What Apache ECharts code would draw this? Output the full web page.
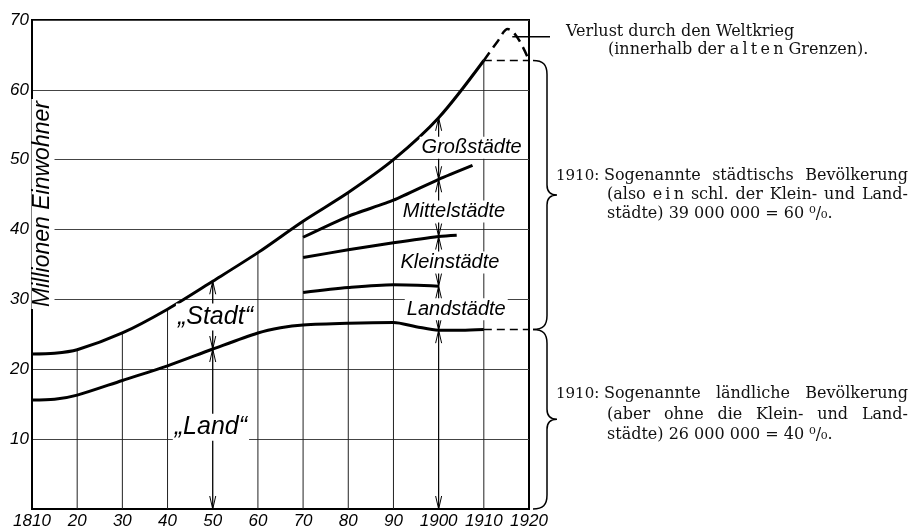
<!DOCTYPE html>
<html><head><meta charset="utf-8">
<script src="https://cdn.jsdelivr.net/npm/echarts@6/dist/echarts.min.js"></script>
<style>html,body{margin:0;padding:0;background:#fff}#c{width:914px;height:530px}</style>
</head><body><div id="c"></div>
<script>
// ---- data (Millionen Einwohner) ----
const totalYears  = [1810,1815,1820,1830,1840,1850,1860,1870,1880,1890,1900,1910];
const totalValues = [22.2,22.3,22.8,25.2,28.6,32.6,36.7,41.2,45.3,50.0,56.0,64.2];
const landYears   = [1810,1815,1820,1830,1840,1850,1860,1865,1870,1880,1890,1895,1900,1905,1910];
const landValues  = [15.6,15.7,16.3,18.4,20.5,22.9,25.2,25.95,26.35,26.6,26.7,26.1,25.6,25.6,25.7];
const kleinYears  = [1870,1880,1890,1900];
const kleinValues = [31.0,31.7,32.1,31.9];
const mittelYears = [1870,1880,1890,1900,1904];
const mittelValues= [36.0,37.1,38.1,39.0,39.2];
const grossYears  = [1870,1880,1890,1900,1907.5];
const grossValues = [38.9,41.9,44.2,47.2,49.2];
const warYears    = [1910,1913,1915.3,1920];
const warValues   = [64.2,66.9,68.7,64.2];
const tailYears   = [1910,1920];
const totalTail   = [64.2,64.2];
const landTail    = [25.7,25.7];
const gridYears   = [1820,1830,1840,1850,1860,1870,1880,1890,1900,1910];
const arrows      = [[1850,0,22.9],[1850,22.9,32.6],[1900,0,25.6],[1900,25.6,31.9],[1900,31.9,39.0],[1900,39.0,47.2],[1900,47.2,56.0]];
const braces      = [[1920,64.2,25.7],[1920,25.7,0]];
const xTickLabels = {1810:'1810',1900:'1900',1910:'1910',1920:'1920'};

const chart = echarts.init(document.getElementById('c'));
const pairs = (xs, ys) => xs.map((x,i)=>[x, ys[i]]);
const line = (xs, ys, width, type, smooth) => ({
  type:'line', data: pairs(xs, ys), symbol:'none', showSymbol:false, smooth: smooth,
  lineStyle:{color:'#000', width: width, type: type}, z:3, silent:true
});

const option = {
  animation:false,
  backgroundColor:'#fff',
  grid:{left:32, right:385, top:20, bottom:19, show:true, borderColor:'#000', borderWidth:2, containLabel:false},
  xAxis:{type:'value', min:1810, max:1920, interval:10,
    axisLine:{show:true, lineStyle:{color:'#000', width:2}}, axisTick:{show:false}, splitLine:{show:false},
    axisLabel:{margin:4, color:'#000', fontStyle:'italic', fontSize:17, fontFamily:'"Liberation Sans", Arial, sans-serif',
      formatter: v => xTickLabels[v] || String(v % 100)}},
  yAxis:{type:'value', min:0, max:70, interval:10,
    axisLine:{show:true, lineStyle:{color:'#000', width:2}}, axisTick:{show:false},
    splitLine:{show:true, lineStyle:{color:'#444', width:1}},
    axisLabel:{margin:3, color:'#000', fontStyle:'italic', fontSize:17, fontFamily:'"Liberation Sans", Arial, sans-serif',
      formatter: v => v === 0 ? '' : String(v)}},
  series:[
    {type:'custom', data: gridYears.map(y => [y, totalValues[totalYears.indexOf(y)]]), z:1, silent:true,
      encode:{x:0, y:1},
      renderItem:(p, api) => {
        const a = api.coord([api.value(0), 0]), b = api.coord([api.value(0), api.value(1)]);
        return {type:'line', shape:{x1:a[0], y1:a[1], x2:b[0], y2:b[1]}, style:{stroke:'#222', lineWidth:1}};
      }},
    line(totalYears, totalValues, 3, 'solid', 0.3),
    line(landYears, landValues, 3, 'solid', 0.3),
    line(kleinYears, kleinValues, 3, 'solid', 0.3),
    line(mittelYears, mittelValues, 3, 'solid', 0.3),
    line(grossYears, grossValues, 3, 'solid', 0.2),
    line(warYears, warValues, 2.5, [10,6], 0.4),
    line(tailYears, totalTail, 1.5, [8,5], false),
    line(tailYears, landTail, 1.5, [8,5], false),
    {type:'custom', data: arrows, z:2, silent:true, encode:{x:0, y:[1,2]},
      renderItem:(p, api) => {
        const x = api.value(0);
        const lo = api.coord([x, api.value(1)]), hi = api.coord([x, api.value(2)]);
        const hw = 3, hl = 13, st = {stroke:'#000', fill:null, lineWidth:1};
        return {type:'group', children:[
          {type:'line', shape:{x1:lo[0], y1:lo[1], x2:hi[0], y2:hi[1]}, style:st},
          {type:'polyline', shape:{points:[[hi[0]-hw, hi[1]+hl],[hi[0], hi[1]],[hi[0]+hw, hi[1]+hl]]}, style:st},
          {type:'polyline', shape:{points:[[lo[0]-hw, lo[1]-hl],[lo[0], lo[1]],[lo[0]+hw, lo[1]-hl]]}, style:st}
        ]};
      }},
    {type:'custom', data: braces, z:2, silent:true, clip:false, encode:{x:0, y:[1,2]},
      renderItem:(p, api) => {
        const x = api.value(0);
        const t = api.coord([x, api.value(1)]), b = api.coord([x, api.value(2)]);
        const x0 = t[0] + 4, yT = t[1], yB = b[1], ym = (yT + yB) / 2, xv = x0 + 14, xt = x0 + 24;
        const d = `M${x0},${yT} C${x0+10},${yT} ${xv},${yT+4} ${xv},${yT+14} L${xv},${ym-10} C${xv},${ym-3} ${xv+4},${ym} ${xt},${ym} ` +
                  `M${xt},${ym} C${xv+4},${ym} ${xv},${ym+3} ${xv},${ym+10} L${xv},${yB-14} C${xv},${yB-4} ${x0+10},${yB} ${x0},${yB}`;
        return {type:'path', shape:{pathData:d}, style:{stroke:'#000', fill:null, lineWidth:1.5}};
      }}
  ]
};
chart.setOption(option);

// ---- annotations ----
const px = v => chart.convertToPixel({gridIndex:0}, v);
const plotLabels = [
  ['„Stadt“', [1850.6, 27.5], 25],
  ['„Land“', [1849.6, 11.7], 25],
  ['Großstädte', [1907.3, 51.7], 20],
  ['Mittelstädte', [1903.4, 42.6], 20],
  ['Kleinstädte', [1902.5, 35.3], 20],
  ['Landstädte', [1903.9, 28.6], 20]
];
const g = [];
plotLabels.forEach(([t, pos, fs]) => {
  const p = px(pos);
  g.push({type:'text', x:p[0], y:p[1], z:10, style:{text:t, font:`italic ${fs}px "Liberation Sans", Arial, sans-serif`,
    fill:'#000', align:'center', verticalAlign:'middle', backgroundColor:'#fff', padding:[1,2]}});
});
g.push({type:'text', x:43, y:204, rotation:Math.PI/2, z:10, style:{text:'Millionen Einwohner',
  font:'italic 23px "Liberation Sans", Arial, sans-serif', fill:'#000', align:'center', verticalAlign:'middle',
  backgroundColor:'#fff', padding:[0,2]}});

const pk = px([1916.3, 67.6]);
g.push({type:'line', z:5, shape:{x1:pk[0], y1:pk[1], x2:550, y2:pk[1]}, style:{stroke:'#000', lineWidth:1.5}});

const serif = '16px "DejaVu Serif", "Liberation Serif", serif';
const serifSmall = '15px "DejaVu Serif", "Liberation Serif", serif';
const mctx = document.createElement('canvas').getContext('2d');
function plain(text, x, y, font) {
  g.push({type:'text', x, y, style:{text, font: font || serif, fill:'#111', verticalAlign:'middle'}});
}
function justify(text, left, right, y) {
  mctx.font = serif;
  const words = text.split(' ');
  const w = words.map(s => mctx.measureText(s).width);
  const tot = w.reduce((a,b)=>a+b, 0);
  const gap = Math.max((right - left - tot) / (words.length - 1), mctx.measureText(' ').width);
  let x = left;
  words.forEach((s,i) => { plain(s, x, y); x += w[i] + gap; });
}
const th = '\u2009';
plain('Verlust durch den Weltkrieg', 566, 32);
plain('(innerhalb der ' + ['a','l','t','e','n'].join(th) + ' Grenzen).', 608, 50);
plain('1910:', 556, 176, serifSmall);
justify('Sogenannte städtischs Bevölkerung', 604, 908, 176);
justify('(also ' + ['e','i','n'].join(th) + ' schl. der Klein- und Land-', 607, 908, 195);
plain('städte) 39 000 000 = 60 ⁰/₀.', 607, 214);
plain('1910:', 556, 394, serifSmall);
justify('Sogenannte ländliche Bevölkerung', 604, 908, 394);
justify('(aber ohne die Klein- und Land-', 607, 908, 415);
plain('städte) 26 000 000 = 40 ⁰/₀.', 607, 435);

chart.setOption({graphic: g});
</script></body></html>
